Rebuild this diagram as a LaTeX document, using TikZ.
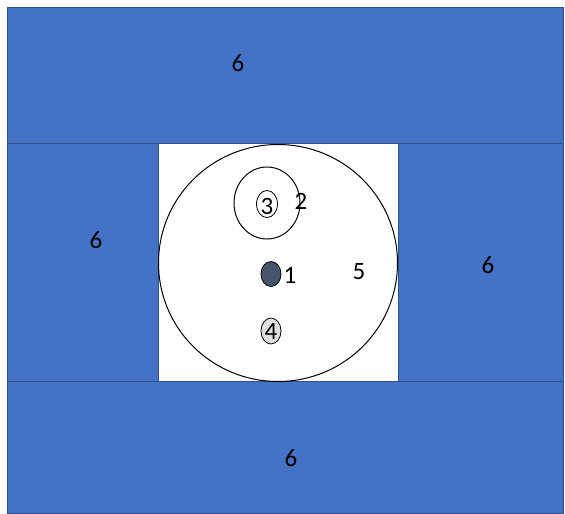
\documentclass[tikz,border=0pt]{standalone}
\usepackage{fontspec}
\setmainfont{Carlito}
\definecolor{bluefill}{HTML}{4472C4}
\definecolor{blueedge}{HTML}{2F528F}
\definecolor{slate}{HTML}{44546A}
\definecolor{lightg}{HTML}{E0E0E0}
\begin{document}
\begin{tikzpicture}[x=1pt,y=-1pt,
  band/.style={fill=bluefill,draw=blueedge,line width=1pt},
  lbl/.style={font=\fontsize{25}{25}\selectfont,inner sep=0pt},
  ring/.style={draw=black,line width=1pt}]
\useasboundingbox (0,0) rectangle (565,514);
\fill[white] (0,0) rectangle (565,514);
% bands
\draw[band] (7,7) rectangle (563,143);
\draw[band] (7,143) rectangle (158,381);
\draw[band] (398,143) rectangle (563,381);
\draw[band] (7,381) rectangle (563,513);
\fill[white] (158.5,143.5) rectangle (397.5,380.5);
% labels 6
\node[lbl] (t6) at (238,63) {6};
\node[lbl] (l6) at (96,240) {6};
\node[lbl] (r6) at (488,265) {6};
\node[lbl] (b6) at (291,458) {6};
% big circle
\draw[ring] (278,263) ellipse [x radius=119.5, y radius=118.5];
\node[lbl] (five) at (359,272) {5};
% ellipse 2
\draw[ring] (267,203) ellipse [x radius=33, y radius=36];
\node[lbl] (two) at (301,201) {2};
% circle 3
\draw[ring,line width=0.8pt] (267,204) ellipse [x radius=10.5, y radius=13.5];
\node[lbl] (three) at (267,206) {3};
% filled 1
\draw[fill=slate,draw=black,line width=0.8pt] (271,274) ellipse [x radius=10, y radius=12.5];
\node[lbl] (one) at (290,275) {1};
% 4
\draw[fill=lightg,draw=black,line width=0.8pt] (271,331) ellipse [x radius=10, y radius=13];
\node[lbl] (four) at (271,331) {4};
\end{tikzpicture}
\end{document}
